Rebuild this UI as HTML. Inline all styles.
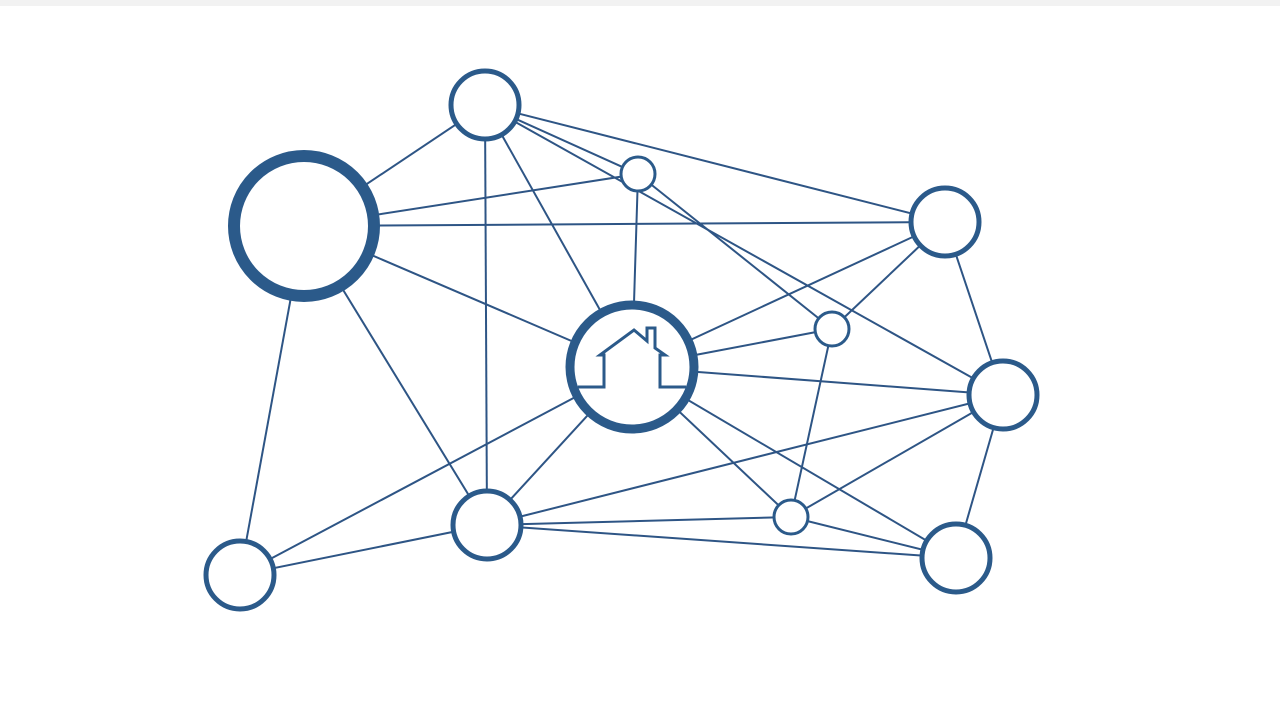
<!DOCTYPE html>
<html><head><style>html,body{margin:0;padding:0;background:#fff;}</style></head>
<body>
<svg width="1280" height="720" viewBox="0 0 1280 720" xmlns="http://www.w3.org/2000/svg">
<rect x="0" y="0" width="1280" height="6" fill="#f2f2f2"/>
<g stroke="#2e5585" stroke-width="2" fill="none">
<line x1="304" y1="226" x2="485" y2="105"/>
<line x1="304" y1="226" x2="638" y2="174"/>
<line x1="304" y1="226" x2="945" y2="222"/>
<line x1="304" y1="226" x2="632" y2="367"/>
<line x1="304" y1="226" x2="240" y2="575"/>
<line x1="304" y1="226" x2="487" y2="525"/>
<line x1="485" y1="105" x2="487" y2="525"/>
<line x1="485" y1="105" x2="632" y2="367"/>
<line x1="485" y1="105" x2="638" y2="174"/>
<line x1="485" y1="105" x2="945" y2="222"/>
<line x1="485" y1="105" x2="1003" y2="395"/>
<line x1="638" y1="174" x2="832" y2="329"/>
<line x1="638" y1="174" x2="632" y2="367"/>
<line x1="632" y1="367" x2="945" y2="222"/>
<line x1="632" y1="367" x2="832" y2="329"/>
<line x1="632" y1="367" x2="1003" y2="395"/>
<line x1="632" y1="367" x2="240" y2="575"/>
<line x1="632" y1="367" x2="487" y2="525"/>
<line x1="632" y1="367" x2="791" y2="517"/>
<line x1="632" y1="367" x2="956" y2="558"/>
<line x1="832" y1="329" x2="945" y2="222"/>
<line x1="832" y1="329" x2="791" y2="517"/>
<line x1="945" y1="222" x2="1003" y2="395"/>
<line x1="1003" y1="395" x2="956" y2="558"/>
<line x1="1003" y1="395" x2="487" y2="525"/>
<line x1="1003" y1="395" x2="791" y2="517"/>
<line x1="487" y1="525" x2="240" y2="575"/>
<line x1="487" y1="525" x2="791" y2="517"/>
<line x1="487" y1="525" x2="956" y2="558"/>
<line x1="791" y1="517" x2="956" y2="558"/>
</g>
<g stroke="#2b5a8a" fill="#fff">
<circle cx="304" cy="226" r="70" stroke-width="12"/>
<circle cx="485" cy="105" r="34" stroke-width="5"/>
<circle cx="638" cy="174" r="17" stroke-width="3"/>
<circle cx="945" cy="222" r="34" stroke-width="5"/>
<circle cx="832" cy="329" r="17" stroke-width="3"/>
<circle cx="1003" cy="395" r="34" stroke-width="5"/>
<circle cx="240" cy="575" r="34" stroke-width="5"/>
<circle cx="487" cy="525" r="34" stroke-width="5"/>
<circle cx="791" cy="517" r="17" stroke-width="3"/>
<circle cx="956" cy="558" r="34" stroke-width="5"/>
<circle cx="632" cy="367" r="62" stroke-width="9"/>
</g>
<polyline points="578,387 604,387 604,355 600,355 634,330 647,341 647,328 655,328 655,348 665,355 660,355 660,387 686,387" fill="none" stroke="#2b5a8a" stroke-width="3"/>
</svg>
</body></html>
